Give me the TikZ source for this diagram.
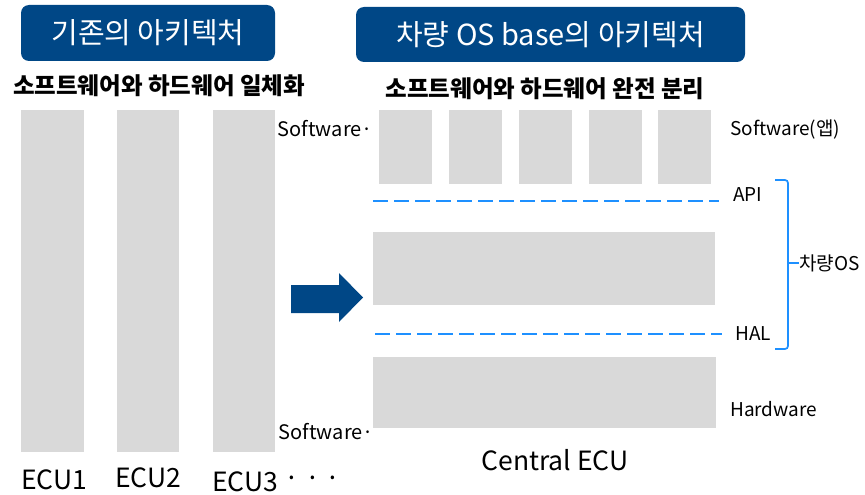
\documentclass[tikz,border=0pt]{standalone}
\usepackage{fontspec}
\setmainfont{Noto Sans CJK KR}
\definecolor{navy}{RGB}{0,71,134}
\definecolor{slab}{RGB}{217,217,217}
\definecolor{linkblue}{RGB}{30,144,255}
\tikzset{
  titlebox/.style={fill=navy, rounded corners=8pt, text=white, inner sep=0pt,
    font=\fontsize{29}{32}\selectfont},
  subtitle/.style={font=\bfseries\fontsize{23.5}{27}\selectfont, inner sep=0pt},
  ecu/.style={font=\fontsize{26.5}{30}\selectfont, inner sep=0pt},
  sidelabel/.style={font=\fontsize{19}{22}\selectfont, inner sep=0pt},
  apiline/.style={linkblue, line width=2pt, dash pattern=on 15pt off 6pt},
}
\begin{document}
\begin{tikzpicture}[x=1pt,y=-1pt]
\useasboundingbox (0,0) rectangle (865,495);

% headers
\node[titlebox, minimum width=254pt, minimum height=56pt] (t1) at (148,33) {기존의 아키텍처};
\node[titlebox, minimum width=389pt, minimum height=55pt] (t2) at (550.5,34.5) {차량 OS base의 아키텍처};
\node[subtitle] (s1) at (159,86) {소프트웨어와 하드웨어 일체화};
\node[subtitle] (s2) at (545,89) {소프트웨어와 하드웨어 완전 분리};

% separate ECUs
\fill[slab] (21,110) rectangle (84,452);
\fill[slab] (117,110) rectangle (179,452);
\fill[slab] (213,110) rectangle (275,452);
\node[ecu] (e1) at (54,480) {ECU1};
\node[ecu] (e2) at (148,478) {ECU2};
\node[ecu] (e3) at (245,482) {ECU3};
\node[ecu, anchor=west] (dots) at (284,482) {· · ·};
\node[sidelabel, font=\fontsize{20}{23}\selectfont, anchor=east] (sw1) at (373,129) {Software·};
\node[sidelabel, font=\fontsize{20}{23}\selectfont, anchor=east] (sw2) at (374,432) {Software·};

% transition arrow
\fill[navy] (291,285) -- (339,285) -- (339,273) -- (363,297.5) -- (339,322) -- (339,313) -- (291,313) -- cycle;

% central ECU stack
\fill[slab] (379,110) rectangle (432,184);
\fill[slab] (449,110) rectangle (502,184);
\fill[slab] (519,110) rectangle (572,184);
\fill[slab] (589,110) rectangle (642,184);
\fill[slab] (658,110) rectangle (711,184);
\coordinate (apiL) at (373,201);
\coordinate (apiR) at (719,201);
\draw[apiline] (apiL) -- (apiR);
\fill[slab] (373,232) rectangle (715,305);
\coordinate (halL) at (375,334);
\coordinate (halR) at (722,334);
\draw[apiline] (halL) -- (halR);
\fill[slab] (373,357) rectangle (716,428);
\node[ecu] (cecu) at (555,460) {Central ECU};

% layer labels
\node[sidelabel, anchor=west] (app) at (730,130) {Software(앱)};
\node[sidelabel, anchor=west] (api) at (733,195) {API};
\node[sidelabel, anchor=west] (hal) at (735,334) {HAL};
\node[sidelabel, anchor=west] (hw) at (730,409) {Hardware};

% bracket for the vehicle OS
\coordinate (bt) at (775,180);
\coordinate (bb) at (775,349);
\coordinate (bm) at (788,263);
\draw[linkblue, line width=1.7pt, rounded corners=3pt] (bt) -- (788,180) -- (788,349) -- (bb);
\node[sidelabel, anchor=west] (vos) at (799,263) {차량OS};
\draw[linkblue, line width=1.7pt] (bm) -- (vos.west);
\end{tikzpicture}
\end{document}
